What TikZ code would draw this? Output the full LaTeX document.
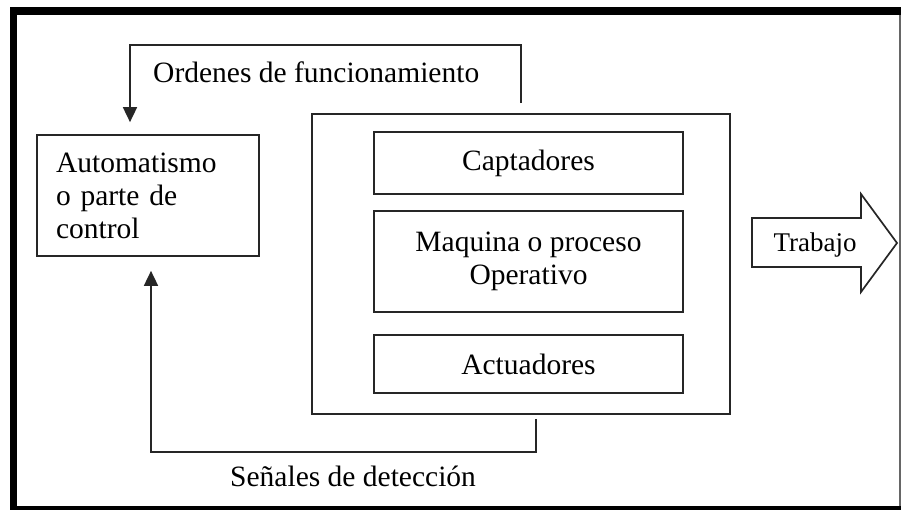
\documentclass[tikz,border=0pt]{standalone}
\usepackage{fontspec}
\setmainfont{Liberation Serif}
\usetikzlibrary{arrows.meta}
\begin{document}
\begin{tikzpicture}[x=1pt,y=-1pt,
  box/.style={draw=black!85,line width=1.7pt,rectangle,inner sep=0pt,
    font=\fontsize{29.5}{33}\selectfont},
  lbl/.style={inner sep=0pt,font=\fontsize{29.5}{33}\selectfont},
  conn/.style={draw=black!85,line width=1.7pt,-{Triangle[length=15pt,width=14pt]}},
  frameline/.style={fill=black}]
\useasboundingbox (0,0) rectangle (901,510);
% outer frame
\fill[frameline] (10,7) rectangle (17,510);
\fill[frameline] (10,7) rectangle (901,15);
\fill[frameline] (10,506) rectangle (901,510);
\draw[black!60,line width=1.5pt] (900,15) -- (900,506);
% boxes
\node[box,minimum width=222pt,minimum height=121pt,text width=184pt,align=left] (ctrl) at (148,195.5)
  {Automatismo\\o parte de\\control};
\node[box,minimum width=418pt,minimum height=300pt] (planta) at (521,264) {};
\node[box,minimum width=309pt,minimum height=62pt] (capt) at (528.5,163) {Captadores};
\node[box,minimum width=309pt,minimum height=101pt,align=center] (maq) at (528.5,261.5)
  {Maquina o proceso\\Operativo};
\node[box,minimum width=309pt,minimum height=58pt] (act) at (528.5,364) {Actuadores};
% connectors
\draw[conn,shorten <=10pt,shorten >=12pt] (planta.north) -- ++(0,-68) -| ([xshift=-18pt]ctrl.north);
\draw[conn,shorten <=4pt,shorten >=14pt] ([xshift=15pt]planta.south) -- ++(0,37) -| ([xshift=3pt]ctrl.south);
\node[lbl,anchor=base west] (ordenes) at (153,83) {Ordenes de funcionamiento};
\node[lbl,anchor=base west] (senales) at (230,486) {Señales de detección};
% output arrow
\draw[draw=black!85,line width=1.7pt,line join=miter] (752,218) -- (861,218) -- (861,194) -- (897,243)
  -- (861,292) -- (861,267) -- (752,267) -- cycle;
\node[lbl,font=\fontsize{27}{30}\selectfont] (trabajo) at (815,245) {Trabajo};
\end{tikzpicture}
\end{document}
